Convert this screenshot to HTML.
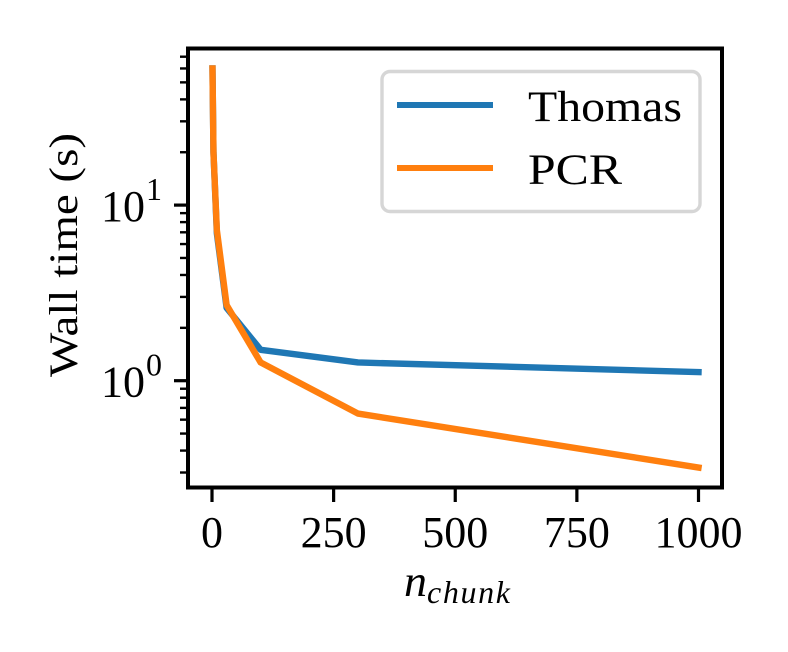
<!DOCTYPE html>
<html>
<head>
<meta charset="utf-8">
<style>
html,body{margin:0;padding:0;background:#fff;}
svg{display:block;}
text{font-family:"Liberation Serif",serif;fill:#000;}
</style>
</head>
<body>
<svg id="chart" xmlns="http://www.w3.org/2000/svg" width="788" height="652" viewBox="0 0 788 652">
<rect x="0" y="0" width="788" height="652" fill="#fff"/>
<g id="ticks"></g>
<g id="series"></g>
<rect x="188" y="48.5" width="534" height="439" fill="none" stroke="#000" stroke-width="4"/>
<g>
<rect x="382" y="71.5" width="318" height="140" rx="8" ry="8" fill="#fff" fill-opacity="0.8" stroke="#d6d6d6" stroke-width="3.4"/>
<line x1="397" y1="105" x2="493" y2="105" stroke="#1f77b4" stroke-width="6"/>
<text x="528" y="121" font-size="43" textLength="154" lengthAdjust="spacingAndGlyphs">Thomas</text>
<line x1="397" y1="168" x2="493" y2="168" stroke="#ff7f0e" stroke-width="6"/>
<text x="528" y="184" font-size="43" textLength="94" lengthAdjust="spacingAndGlyphs">PCR</text>
</g>
<text transform="translate(77,255) rotate(-90)" text-anchor="middle" font-size="40" textLength="244" lengthAdjust="spacingAndGlyphs">Wall time (s)</text>
<text x="404" y="596" font-size="44" font-style="italic" textLength="23" lengthAdjust="spacingAndGlyphs">n</text>
<text x="427" y="603" font-size="32" font-style="italic" textLength="83" lengthAdjust="spacing">chunk</text>
</svg>
<script>
var nChunk = [1, 3, 10, 30, 100, 300, 1000];
var thomasTimes = [60, 20, 6.9, 2.6, 1.5, 1.27, 1.12];
var pcrTimes = [60, 20, 7.2, 2.7, 1.27, 0.65, 0.32];
var xTickValues = [0, 250, 500, 750, 1000];
var yMajorExponents = [0, 1];
var yMinorValues = [0.3, 0.4, 0.5, 0.6, 0.7, 0.8, 0.9, 2, 3, 4, 5, 6, 7, 8, 9, 20, 30, 40, 50, 60, 70];

var NS = 'http://www.w3.org/2000/svg';
function xScale(v) { return 212 + v * 0.4865; }
function yScale(v) { return 380.7 - Math.log10(v) * 175.6; }
function make(tag, parent, attrs) {
  var el = document.createElementNS(NS, tag);
  for (var k in attrs) el.setAttribute(k, attrs[k]);
  parent.appendChild(el);
  return el;
}
var tickGroup = document.getElementById('ticks');
var seriesGroup = document.getElementById('series');

xTickValues.forEach(function (v) {
  var t = make('line', tickGroup, {x1: xScale(v), x2: xScale(v), y1: 488, y2: 502, stroke: '#000', 'stroke-width': 3.2});
  
  
  var l = make('text', tickGroup, {x: xScale(v), y: 547, 'font-size': 44, 'text-anchor': 'middle'});
  l.textContent = String(v);
  
  
});

yMajorExponents.forEach(function (e) {
  var y = yScale(Math.pow(10, e));
  var t = make('line', tickGroup, {x1: 174, x2: 188, y1: y, y2: y, stroke: '#000', 'stroke-width': 3.2});
  
  
  var l = make('text', tickGroup, {x: 101, y: y + 16, 'font-size': 44});
  l.textContent = '10';
  
  
  var s = make('text', tickGroup, {x: 146, y: y - 5, 'font-size': 32});
  s.textContent = String(e);
  
  
});

yMinorValues.forEach(function (v) {
  var y = yScale(v);
  var t = make('line', tickGroup, {x1: 180, x2: 188, y1: y, y2: y, stroke: '#000', 'stroke-width': 2.4});
  
  
});

function linePoints(values) {
  return values.map(function (v, i) { return xScale(nChunk[i]) + ',' + yScale(v); }).join(' ');
}
var thomasLine = make('polyline', seriesGroup, {points: linePoints(thomasTimes), fill: 'none', stroke: '#1f77b4', 'stroke-width': 6.4, 'stroke-linecap': 'square', 'stroke-linejoin': 'round'});


var pcrLine = make('polyline', seriesGroup, {points: linePoints(pcrTimes), fill: 'none', stroke: '#ff7f0e', 'stroke-width': 6.4, 'stroke-linecap': 'square', 'stroke-linejoin': 'round'});


</script>
</body>
</html>
